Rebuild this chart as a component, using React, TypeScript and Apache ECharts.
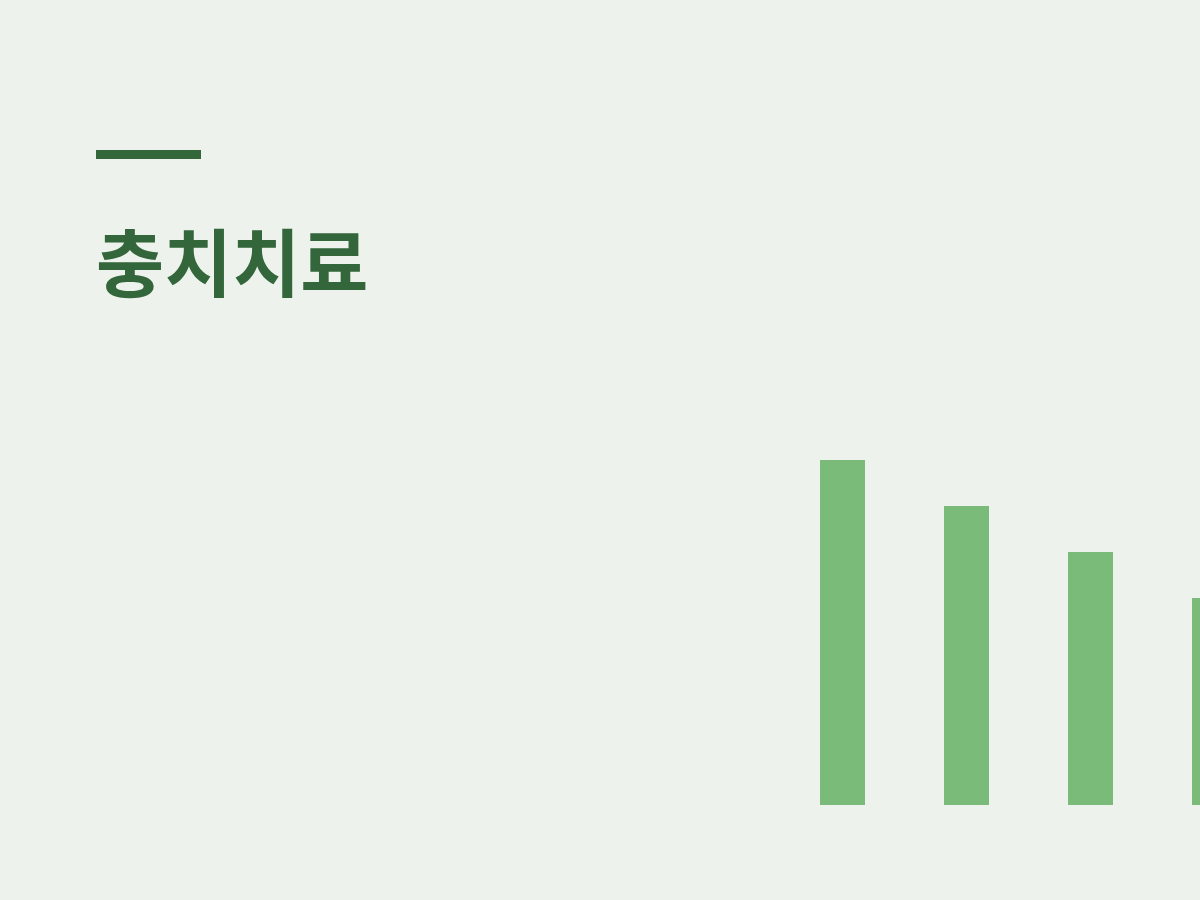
import React, { useEffect, useRef } from "react";
import * as echarts from "echarts";

const categories = ["A", "B", "C", "D"];
const values = [75, 65, 55, 45];
const titleText = "충치치료";

export default function App() {
  const ref = useRef<HTMLDivElement>(null);
  useEffect(() => {
    if (!ref.current) return;
    const chart = echarts.init(ref.current, null, { renderer: "svg" });
    chart.setOption({
      animation: false,
      backgroundColor: "#EDF2EC",
      grid: {
        left: 780.5,
        width: 496,
        top: 345,
        height: 460,
        outerBoundsMode: "none",
        containLabel: false,
      },
      xAxis: { type: "category", data: categories, show: false },
      yAxis: { type: "value", min: 0, max: 100, show: false },
      series: [
        {
          type: "bar",
          data: values,
          barWidth: 45,
          itemStyle: { color: "#7BBB7A" },
          silent: true,
        },
      ],
      graphic: [
        {
          type: "rect",
          shape: { x: 96, y: 150, width: 105, height: 9 },
          style: { fill: "#33663A" },
        },
        {
          type: "text",
          x: 96,
          y: 258,
          style: {
            text: titleText,
            fill: "#33663A",
            font: 'bold 74px "Noto Sans CJK KR"',
            verticalAlign: "middle",
            align: "left",
          },
        },
      ],
    });
    return () => chart.dispose();
  }, []);
  return (
    <div
      ref={ref}
      style={{ position: "fixed", left: 0, top: 0, width: 1200, height: 900 }}
    />
  );
}
